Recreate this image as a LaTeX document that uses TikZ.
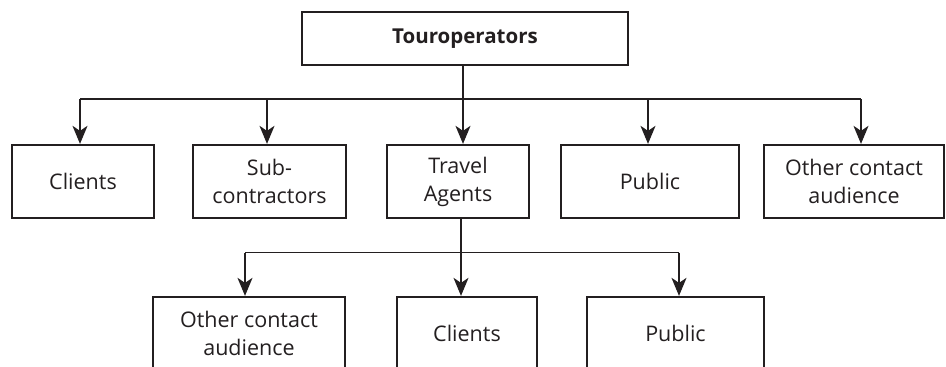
\documentclass[tikz,border=0pt]{standalone}
\usepackage{fontspec}
\setmainfont{Open Sans}
\usetikzlibrary{arrows.meta}
\definecolor{ink}{HTML}{231F20}
\tikzset{
  box/.style={draw=ink, line width=2.3pt, rectangle, align=center, text=ink,
    font=\fontsize{21.5}{28}\selectfont, inner sep=0pt},
  conn/.style={draw=ink, line width=1.1pt},
  arr/.style={conn, -{Stealth[length=18pt, width=15pt, inset=5pt]}}
}
\begin{document}
\begin{tikzpicture}[x=1pt, y=-1pt]
\clip (0,0) rectangle (946,367);
\fill[white] (0,0) rectangle (946,367);
% top
\node[box, minimum width=326pt, minimum height=53pt, font=\fontsize{20.5}{28}\selectfont\bfseries] (top) at (465,38.5) {Touroperators};
% row 1
\node[box, minimum width=142pt, minimum height=73pt] (c1) at (83,181.5) {Clients};
\node[box, minimum width=153pt, minimum height=73pt] (s1) at (269.5,181.5) {Sub-\\contractors};
\node[box, minimum width=142pt, minimum height=73pt] (t1) at (458,181.5) {Travel\\Agents};
\node[box, minimum width=178pt, minimum height=73pt] (p1) at (650,181.5) {Public};
\node[box, minimum width=180pt, minimum height=73pt] (o1) at (854,181.5) {Other contact\\audience};
% row 2
\node[box, minimum width=192pt, minimum height=73pt] (o2) at (249,333.5) {Other contact\\audience};
\node[box, minimum width=140pt, minimum height=73pt] (c2) at (467,333.5) {Clients};
\node[box, minimum width=177pt, minimum height=73pt] (p2) at (675.5,333.5) {Public};
% bus 1
\coordinate (b1) at (80,99);
\coordinate (b2) at (267,99);
\coordinate (b3) at (463,99);
\coordinate (b4) at (648,99);
\coordinate (b5) at (861,99);
\draw[conn] (b1) -- (b5);
\draw[conn] (top.south -| b3) -- (b3);
\draw[arr] (b1) -- (b1 |- c1.north);
\draw[arr] (b2) -- (b2 |- s1.north);
\draw[arr] (b3) -- (b3 |- t1.north);
\draw[arr] (b4) -- (b4 |- p1.north);
\draw[arr] (b5) -- (b5 |- o1.north);
% bus 2
\coordinate (d1) at (245,252.5);
\coordinate (d2) at (461,252.5);
\coordinate (d3) at (679,252.5);
\draw[conn] (d1) -- (d3);
\draw[conn] (t1.south -| d2) -- (d2);
\draw[arr] (d1) -- (d1 |- o2.north);
\draw[arr] (d2) -- (d2 |- c2.north);
\draw[arr] (d3) -- (d3 |- p2.north);
\end{tikzpicture}
\end{document}
